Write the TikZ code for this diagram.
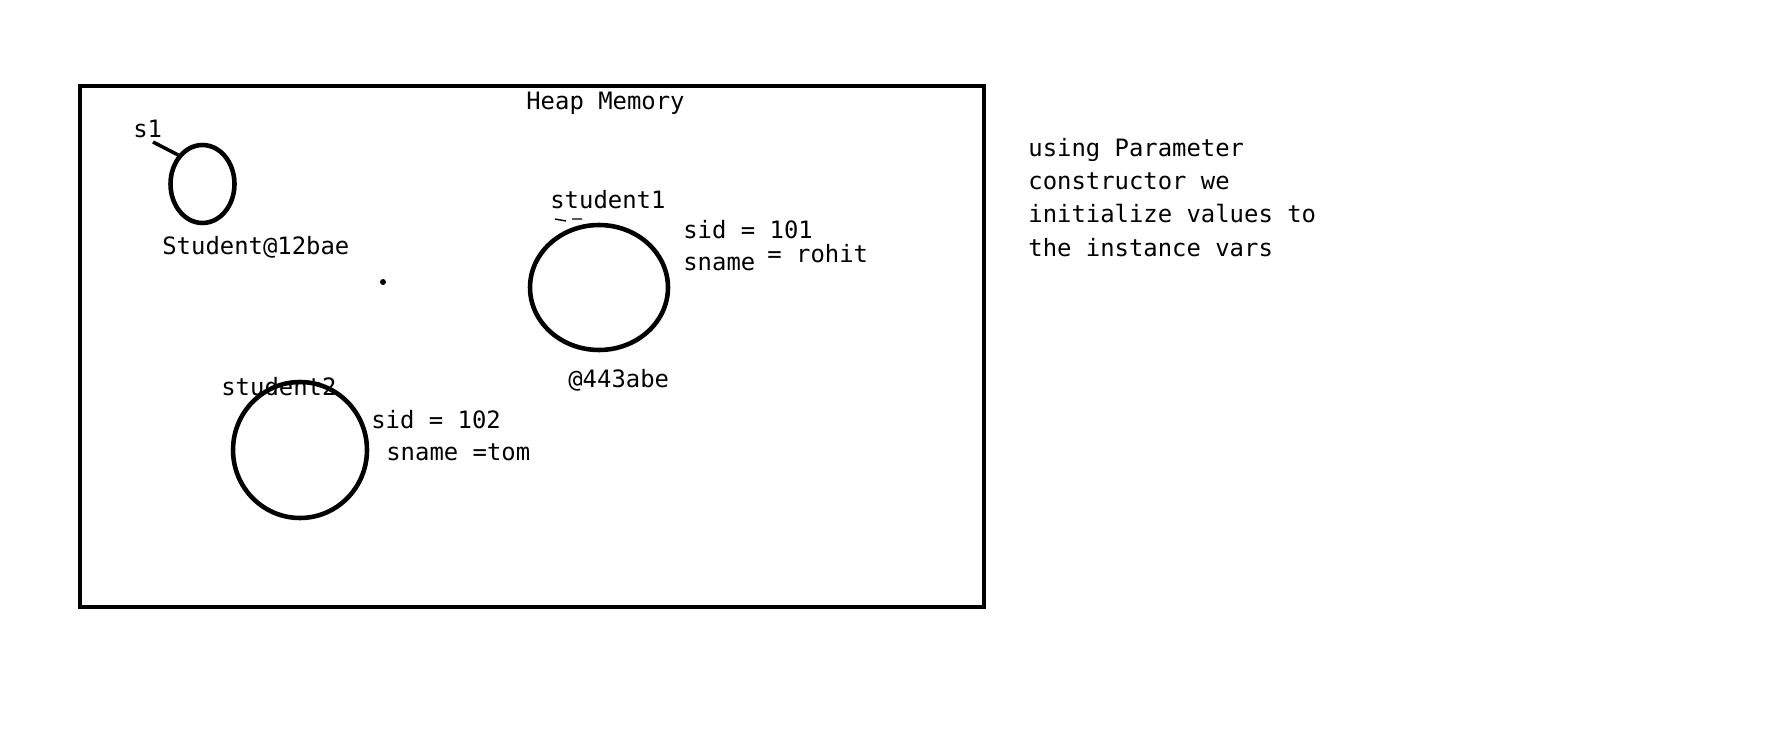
\documentclass[tikz,border=0pt]{standalone}
\usepackage{fontspec}
\setmonofont{DejaVu Sans Mono}
\usepackage{tikz}
\usetikzlibrary{shapes.geometric}

\tikzset{
	txt/.style={anchor=base west,inner sep=0pt,font=\ttfamily\fontsize{13.6}{18}\selectfont},
	obj/.style={draw,ellipse,line width=2.6pt,inner sep=0pt},
	heap/.style={draw,line width=2.8pt}
}

\begin{document}
\begin{tikzpicture}[x=0.02cm,y=-0.02cm]
	\useasboundingbox (0,0) rectangle (1771,743);
	% heap box
	\draw[heap] (80,86) rectangle (984,607);
	\node[txt] (heaptitle) at (526,110) {Heap Memory};

	% reference s1
	\node[obj,minimum width=1.28cm,minimum height=1.56cm] (obj0) at (202.5,184) {};
	\node[txt] (s1) at (133,138) {s1};
	\coordinate (s1end) at (153,142);
	\draw[line width=2pt] (s1end) -- (obj0.130);
	\node[txt] (addr0) at (162,255) {Student@12bae};
	\fill (383,282) circle (3);

	% student1
	\node[obj,minimum width=2.76cm,minimum height=2.5cm] (obj1) at (599,287.5) {};
	\node[txt] (name1) at (550,209) {student1};
	\draw[line width=0.8pt] (555,219) -- (566,221) (572,219) -- (582,219);
	\node[txt] (sid1) at (683,238) {sid = 101};
	\node[txt] (sname1) at (683,271) {sname};
	\node[txt] (val1) at (767,262) {= rohit};
	\node[txt] (addr1) at (568,387) {@443abe};

	% student2
	\node[obj,minimum width=2.68cm,minimum height=2.72cm] (obj2) at (300,450) {};
	\node[txt] (name2) at (221,395) {student2};
	\node[txt] (sid2) at (371,428) {sid = 102};
	\node[txt] (sname2) at (386,460) {sname =tom};

	% note
	\node[txt] (note1) at (1028,157) {using Parameter};
	\node[txt] (note2) at (1028,190) {constructor we};
	\node[txt] (note3) at (1028,223) {initialize values to};
	\node[txt] (note4) at (1028,256) {the instance vars};
\end{tikzpicture}
\end{document}
